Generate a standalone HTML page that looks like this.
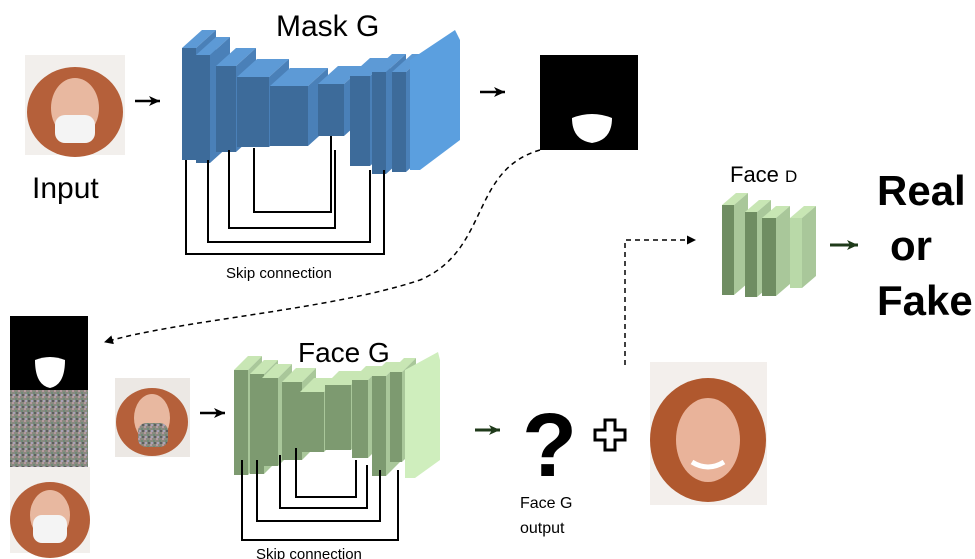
<!DOCTYPE html>
<html><head><meta charset="utf-8"><style>
body{margin:0;background:#fff;}
svg{display:block;font-family:"Liberation Sans","Noto Sans CJK KR",sans-serif;}
</style></head><body>
<svg id="s" width="975" height="559" viewBox="0 0 975 559">
<defs>
<marker id="ah" markerUnits="userSpaceOnUse" markerWidth="12" markerHeight="12" refX="11" refY="6" orient="auto"><path d="M0,1 L11,6 L0,11 L3,6 Z" fill="#000"/></marker>
<marker id="ahd" markerUnits="userSpaceOnUse" markerWidth="9" markerHeight="9" refX="8" refY="4.5" orient="auto"><path d="M0,0 L9,4.5 L0,9 Z" fill="#000"/></marker>
<marker id="ahg" markerUnits="userSpaceOnUse" markerWidth="12" markerHeight="12" refX="11" refY="6" orient="auto"><path d="M0,1 L11,6 L0,11 L3,6 Z" fill="#1f3a1a"/></marker>
<pattern id="noise" width="6" height="6" patternUnits="userSpaceOnUse">
<rect width="6" height="6" fill="#8a8a80"/><rect width="2" height="2" fill="#b59aa0"/><rect x="3" y="2" width="2" height="2" fill="#6f8a78"/><rect x="1" y="4" width="2" height="2" fill="#a8a2b8"/><rect x="4" y="4" width="2" height="2" fill="#5e5e60"/>
</pattern>
</defs>
<g id="blocks"></g>
<g fill="none" stroke="#000" stroke-width="2">
<path d="M186,160 V254 H384 V170"/>
<path d="M208,160 V242 H370 V170"/>
<path d="M229,150 V228 H335 V150"/>
<path d="M254,148 V212 H331 V136"/>
<path d="M242,460 V540 H398 V470"/>
<path d="M257,460 V521 H380 V470"/>
<path d="M280,455 V508 H367 V465"/>
<path d="M296,448 V497 H356 V460"/>
</g>
<text x="226" y="278" font-size="15">Skip connection</text>
<text x="256" y="559" font-size="15">Skip connection</text>
<text x="276" y="36" font-size="30">Mask G</text>
<text x="298" y="362" font-size="28">Face G</text>
<text x="730" y="182" font-size="22">Face <tspan font-size="17">D</tspan></text>
<text x="32" y="198" font-size="30">Input</text>
<text x="520" y="508" font-size="16">Face G</text>
<text x="520" y="533" font-size="16">output</text>
<g font-size="42" font-weight="bold">
<text x="877" y="205">Real</text>
<text x="890" y="260">or</text>
<text x="877" y="315">Fake</text>
</g>
<g stroke="#000" stroke-width="2.5">
<line x1="135" y1="101" x2="160" y2="101" marker-end="url(#ah)"/>
<line x1="480" y1="92" x2="505" y2="92" marker-end="url(#ah)"/>
<line x1="200" y1="413" x2="225" y2="413" marker-end="url(#ah)"/>
</g>
<g stroke="#1f3a1a" stroke-width="3">
<line x1="475" y1="430" x2="500" y2="430" marker-end="url(#ahg)"/>
<line x1="830" y1="245" x2="858" y2="245" marker-end="url(#ahg)"/>
</g>
<g fill="none" stroke="#000" stroke-width="1.5" stroke-dasharray="5,4">
<path d="M540,150 C470,170 490,250 420,280 C330,310 180,320 105,342" marker-end="url(#ahd)"/>
<path d="M625,365 V240 H695" marker-end="url(#ahd)"/>
</g>
<rect x="25" y="55" width="100" height="100" fill="#f2efec"/>
<ellipse cx="75" cy="112" rx="48" ry="45" fill="#b5603a"/>
<ellipse cx="75" cy="108" rx="24" ry="30" fill="#e8b8a0"/>
<rect x="55" y="115" width="40" height="28" rx="10" fill="#f4f4f4"/>
<rect x="540" y="55" width="98" height="95" fill="#000"/>
<path d="M572,118 Q592,110 612,118 Q612,140 592,143 Q572,140 572,118Z" fill="#fff"/>
<rect x="10" y="316" width="78" height="74" fill="#000"/>
<path d="M35,360 Q50,354 65,360 Q65,385 50,388 Q35,385 35,360Z" fill="#fff"/>
<rect x="10" y="390" width="78" height="77" fill="url(#noise)"/>
<rect x="10" y="467" width="80" height="86" fill="#f2efec"/>
<ellipse cx="50" cy="520" rx="40" ry="38" fill="#b5603a"/>
<ellipse cx="50" cy="515" rx="20" ry="25" fill="#e8b8a0"/>
<rect x="33" y="515" width="34" height="28" rx="9" fill="#f4f4f4"/>
<rect x="115" y="378" width="75" height="79" fill="#ece8e4"/>
<ellipse cx="152" cy="422" rx="36" ry="34" fill="#b5603a"/>
<ellipse cx="152" cy="418" rx="18" ry="24" fill="#e8b8a0"/>
<rect x="138" y="423" width="30" height="24" rx="8" fill="url(#noise)"/>
<rect x="650" y="362" width="117" height="143" fill="#f3efec"/>
<ellipse cx="708" cy="440" rx="58" ry="62" fill="#b0582e"/>
<ellipse cx="708" cy="440" rx="32" ry="42" fill="#e9b39a"/>
<path d="M692,462 Q708,472 724,462" stroke="#fff" stroke-width="5" fill="none"/>
<text x="522" y="476" font-size="90" font-weight="bold">?</text>
<path d="M605,420 h10 v10 h10 v10 h-10 v10 h-10 v-10 h-10 v-10 h10 z" fill="#fff" stroke="#000" stroke-width="3"/>
</svg>
<script>
var g=document.getElementById('blocks'),ns='http://www.w3.org/2000/svg';
function blk(x,y,w,h,dx,dy,front,top,side){
 function p(pts,c){var e=document.createElementNS(ns,'polygon');e.setAttribute('points',pts);e.setAttribute('fill',c);g.appendChild(e);}
 p([x,y,x+dx,y-dy,x+w+dx,y-dy,x+w,y].join(' '),top);
 p([x+w,y,x+w+dx,y-dy,x+w+dx,y+h-dy,x+w,y+h].join(' '),side);
 p([x,y,x+w,y,x+w,y+h,x,y+h].join(' '),front);
}
var B='#3d6b9a',BT='#5d9ad6',BS='#4a80b8';
[[182,48,14,112],[196,55,14,108],[216,66,20,86],[237,77,32,70],[270,86,38,60],[318,84,26,52],[350,76,20,90],[372,72,14,102],[392,72,14,100]].forEach(function(b){blk(b[0],b[1],b[2],b[3],20,18,B,BT,BS);});
blk(410,60,10,110,0,0,BS,BT,BS);
var e=document.createElementNS(ns,'polygon');e.setAttribute('points','410,60 455,30 460,40 460,140 420,170 410,170');e.setAttribute('fill','#5b9fdf');g.appendChild(e);
var G='#7d9a70',GT='#c8e6b4',GS='#a9c79a';
[[234,370,14,105],[250,374,14,100],[262,378,16,88],[282,382,20,78],[300,392,24,60],[325,385,26,65],[352,380,16,78],[372,376,14,100],[390,372,12,90]].forEach(function(b){blk(b[0],b[1],b[2],b[3],14,14,G,GT,GS);});
var f=document.createElementNS(ns,'polygon');f.setAttribute('points','405,370 438,352 440,360 440,460 415,478 405,478');f.setAttribute('fill','#cfeebd');g.appendChild(f);
[[722,205,12,90],[745,212,12,85],[762,218,14,78],[790,218,12,70]].forEach(function(b,i){blk(b[0],b[1],b[2],b[3],14,12,i==3?'#b9d9a8':'#6f8d62',GT,GS);});
</script>
</body></html>
